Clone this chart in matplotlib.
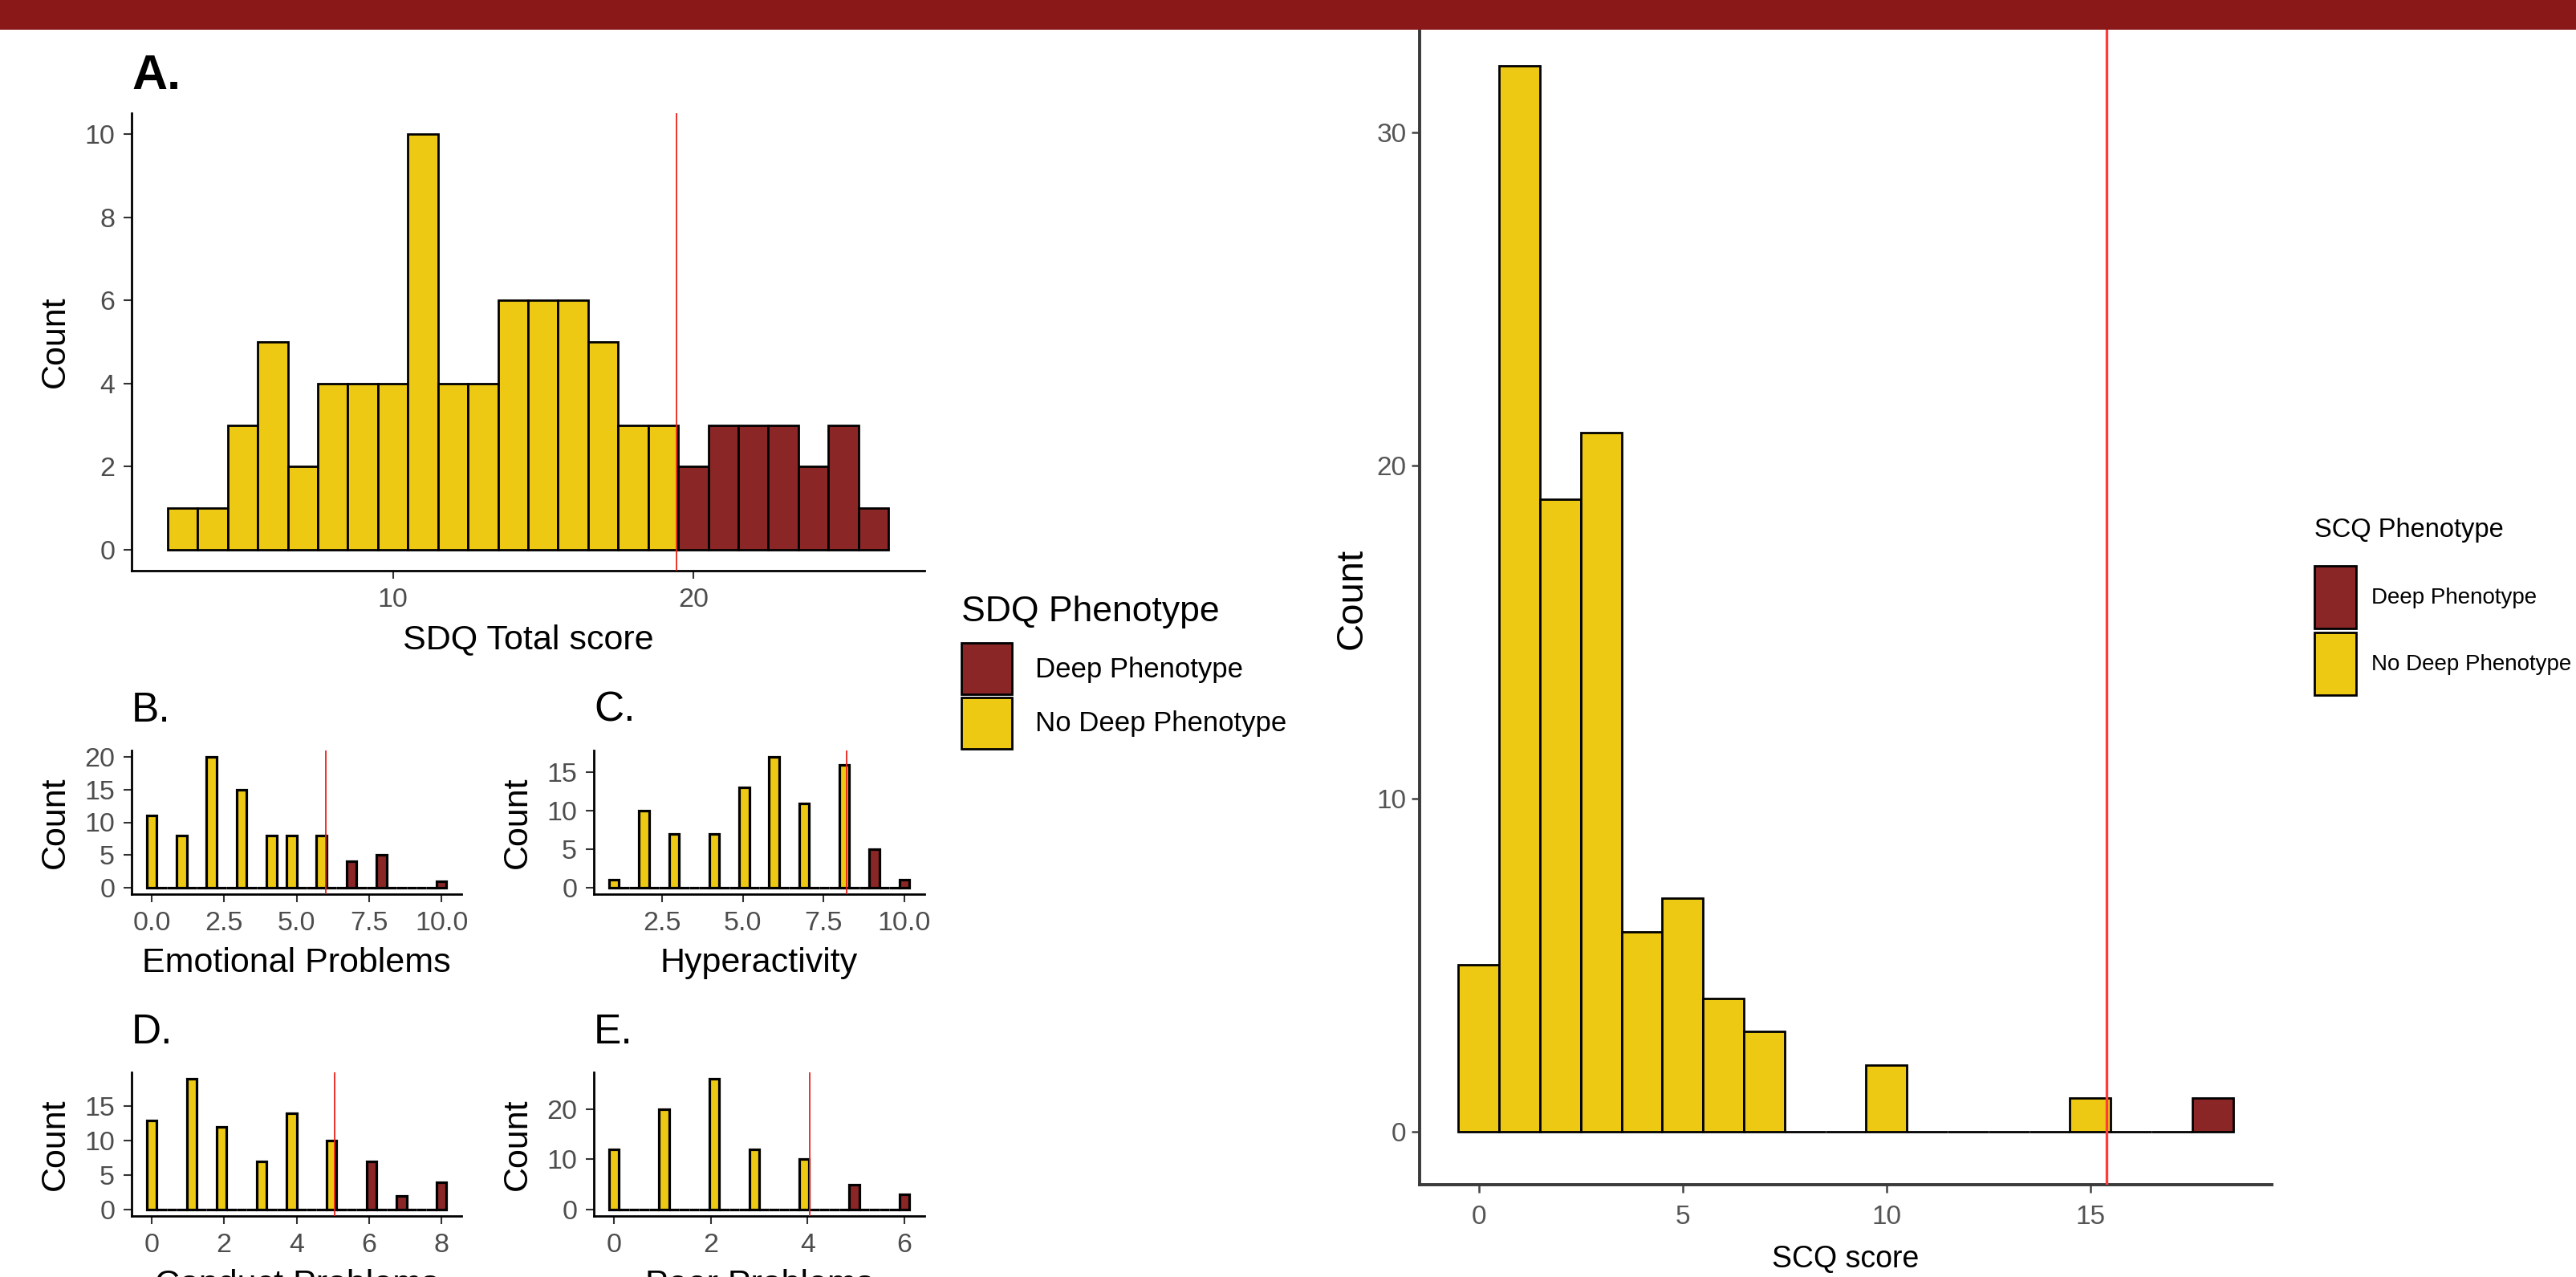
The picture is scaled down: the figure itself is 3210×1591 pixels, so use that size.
import numpy as np
import matplotlib
matplotlib.use("Agg")
import matplotlib.pyplot as plt
from matplotlib.patches import Patch, Rectangle
from matplotlib.font_manager import FontProperties

plt.rcParams["font.family"] = ["Liberation Sans", "DejaVu Sans"]
NARROW = ["Liberation Sans Narrow", "Liberation Sans", "DejaVu Sans"]

YELLOW = "#EEC914"
DARK = "#8A2626"
BANNER = "#8B1818"

# A. SDQ total score (binwidth 1)
sdq_scores = list(range(3, 27))
sdq_counts = [1, 1, 3, 5, 2, 4, 4, 4, 10, 4, 4, 6, 6, 6, 5, 3, 3, 2, 3, 3, 3, 2, 3, 1]
sdq_cut = 19.45
sdq_xticks = [10, 20]
sdq_yticks = [0, 2, 4, 6, 8, 10]

# B. Emotional problems (30 bins)
emo_scores = [0, 1, 2, 3, 4, 5, 6, 7, 8, 10]
emo_counts = [11, 8, 20, 15, 8, 8, 8, 4, 5, 1]
emo_cut = 6.0
emo_xticks = [0.0, 2.5, 5.0, 7.5, 10.0]
emo_yticks = [0, 5, 10, 15, 20]

# C. Hyperactivity
hyp_scores = [1, 2, 3, 4, 5, 6, 7, 8, 9, 10]
hyp_counts = [1, 10, 7, 7, 13, 17, 11, 16, 5, 1]
hyp_cut = 8.2
hyp_xticks = [2.5, 5.0, 7.5, 10.0]
hyp_yticks = [0, 5, 10, 15]

# D. Conduct problems
con_scores = [0, 1, 2, 3, 4, 5, 6, 7, 8]
con_counts = [13, 19, 12, 7, 14, 10, 7, 2, 4]
con_cut = 5.05
con_xticks = [0, 2, 4, 6, 8]
con_yticks = [0, 5, 10, 15]

# E. Peer problems
peer_scores = [0, 1, 2, 3, 4, 5, 6]
peer_counts = [12, 20, 26, 12, 10, 5, 3]
peer_cut = 4.04
peer_xticks = [0, 2, 4, 6]
peer_yticks = [0, 10, 20]

# SCQ score (binwidth 1)
scq_scores = [0, 1, 2, 3, 4, 5, 6, 7, 10, 15, 18]
scq_counts = [5, 32, 19, 21, 6, 7, 4, 3, 2, 1, 1]
scq_cut = 15.4
scq_xticks = [0, 5, 10, 15]
scq_yticks = [0, 10, 20, 30]

legend_labels = ["Deep Phenotype", "No Deep Phenotype"]

W, H = 3210, 1591
fig = plt.figure(figsize=(W / 100, H / 100), dpi=100)


def px_axes(x0, y0, x1, y1):
    return fig.add_axes([x0 / W, 1 - y1 / H, (x1 - x0) / W, (y1 - y0) / H])


def draw_hist(ax, scores, counts, cut, width=None, nbins=30, lw=2.0, cut_lw=1.3, cut_color="#E8231B"):
    scores = np.asarray(scores, float)
    counts = np.asarray(counts, float)
    lo, hi = scores.min(), scores.max()
    if width is None:
        width = (hi - lo) / (nbins - 1)
    n = int(round((hi - lo) / width)) + 1
    centers = lo + width * np.arange(n)
    # ggplot style bins, closed on the right
    idx = np.ceil((scores - lo) / width - 0.5 - 1e-9).astype(int)
    heights = np.zeros(n)
    np.add.at(heights, idx, counts)
    deep = np.zeros(n, bool)
    deep[idx[scores > cut]] = True
    colors = [DARK if d else YELLOW for d in deep]
    ax.bar(centers, heights, width=width, color=colors, edgecolor="black", linewidth=lw, zorder=2)
    ax.axvline(cut, color=cut_color, lw=cut_lw, zorder=3)
    span = n * width
    ax.set_xlim(lo - width / 2 - 0.05 * span, hi + width / 2 + 0.05 * span)
    top = heights.max()
    ax.set_ylim(-0.05 * top, 1.05 * top)


def style_left(ax, xticks, yticks, xlabel, xfmt=None):
    for s in ("top", "right"):
        ax.spines[s].set_visible(False)
    for s in ("left", "bottom"):
        ax.spines[s].set_linewidth(2.0)
        ax.spines[s].set_color("black")
    ax.set_xticks(xticks)
    if xfmt:
        ax.set_xticklabels([xfmt.format(t) for t in xticks])
    ax.set_yticks(yticks)
    ax.tick_params(length=7, width=1.5, color="#333333", labelsize=24.5,
                   labelcolor="#4D4D4D", pad=8)
    ax.set_xlabel(xlabel, fontsize=31, labelpad=10)
    ax.set_ylabel("Count", fontsize=31, labelpad=12)


def panel_tag(ax, tag, bold=False, size=37, offset=36):
    ax.annotate(tag, xy=(0, 1), xycoords="axes fraction", xytext=(0, offset),
                textcoords="offset points", ha="left", va="center",
                fontsize=size, fontweight="bold" if bold else "normal")


def pheno_handles():
    return [Patch(facecolor=DARK, edgecolor="black", linewidth=2, label=legend_labels[0]),
            Patch(facecolor=YELLOW, edgecolor="black", linewidth=2, label=legend_labels[1])]


# A
axA = px_axes(164, 141, 1152, 711)
draw_hist(axA, sdq_scores, sdq_counts, sdq_cut, width=1)
style_left(axA, sdq_xticks, sdq_yticks, "SDQ Total score")
panel_tag(axA, "A.", bold=True, size=44, offset=33)

# B - E
axB = px_axes(164, 935, 575, 1114)
draw_hist(axB, emo_scores, emo_counts, emo_cut, lw=2.3)
style_left(axB, emo_xticks, emo_yticks, "Emotional Problems", "{:.1f}")
panel_tag(axB, "B.")

axC = px_axes(740, 935, 1152, 1114)
draw_hist(axC, hyp_scores, hyp_counts, hyp_cut, lw=2.3)
style_left(axC, hyp_xticks, hyp_yticks, "Hyperactivity", "{:.1f}")
panel_tag(axC, "C.")

axD = px_axes(164, 1336, 575, 1515)
draw_hist(axD, con_scores, con_counts, con_cut, lw=2.3)
style_left(axD, con_xticks, con_yticks, "Conduct Problems")
panel_tag(axD, "D.")

axE = px_axes(740, 1336, 1152, 1515)
draw_hist(axE, peer_scores, peer_counts, peer_cut, lw=2.3)
style_left(axE, peer_xticks, peer_yticks, "Peer Problems")
panel_tag(axE, "E.")

leg1 = fig.legend(handles=pheno_handles(), title="SDQ Phenotype", loc="upper left",
                  bbox_to_anchor=(1198 / W, 1 - 742 / H), frameon=False,
                  fontsize=25, title_fontsize=32, handlelength=1.82, handleheight=2.46,
                  handletextpad=0.83, labelspacing=0.1, borderpad=0, borderaxespad=0,
                  alignment="left")
leg1._legend_box.sep = 13

# SCQ panel
axR = px_axes(1769, 16, 2831, 1476)
draw_hist(axR, scq_scores, scq_counts, scq_cut, width=1, lw=2.0, cut_lw=2.4, cut_color="#FF3B3B")
for s in ("top", "right"):
    axR.spines[s].set_visible(False)
for s in ("left", "bottom"):
    axR.spines[s].set_linewidth(2.8)
    axR.spines[s].set_color("#3A3A3A")
axR.set_xticks(scq_xticks)
axR.set_yticks(scq_yticks)
axR.tick_params(length=7, width=1.8, color="#444444", labelsize=24,
                labelcolor="#555555")
axR.tick_params(axis="x", pad=11)
axR.tick_params(axis="y", pad=5)
for lbl in axR.get_xticklabels() + axR.get_yticklabels():
    lbl.set_fontfamily(NARROW)
axR.set_xlabel("SCQ score", fontsize=27, family=NARROW, labelpad=14)
axR.set_ylabel("Count", fontsize=34, labelpad=6)

leg2 = fig.legend(handles=pheno_handles(), title="SCQ Phenotype", loc="upper left",
                  bbox_to_anchor=(2884 / W, 1 - 645 / H), frameon=False,
                  prop=FontProperties(family=NARROW, size=20),
                  title_fontproperties=FontProperties(family=NARROW, size=23.5),
                  handlelength=1.87, handleheight=3.94, handletextpad=0.68,
                  labelspacing=0.18, borderpad=0, borderaxespad=0, alignment="left")
leg2._legend_box.sep = 21

# top banner
fig.add_artist(Rectangle((0, 1 - 37 / H), 1, 37 / H, transform=fig.transFigure,
                         facecolor=BANNER, edgecolor="none", zorder=10))

fig.savefig("out.png", dpi=100)
